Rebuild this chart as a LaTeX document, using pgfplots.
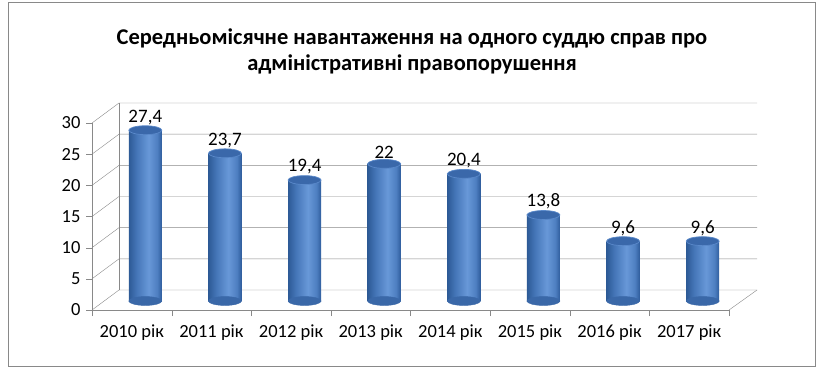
\documentclass[border=0pt]{standalone}
\usepackage{pgfplots}
\pgfplotsset{compat=1.18}
\usepackage{pgfplotstable}
\usepackage{fontspec}
\setmainfont{Carlito}
\definecolor{gridc}{HTML}{898989}
\definecolor{barL}{HTML}{2D5A96}
\definecolor{barL2}{HTML}{4576B8}
\definecolor{barM}{HTML}{6898D8}
\definecolor{barR2}{HTML}{4E7FC1}
\definecolor{barR}{HTML}{2F5D9C}
\definecolor{botc}{HTML}{3A68A8}
\definecolor{topc}{HTML}{3A68AA}
\definecolor{rimc}{HTML}{5A89CA}
\pgfdeclarehorizontalshading{cylshade}{100bp}{color(0bp)=(barL); color(25bp)=(barL); color(37bp)=(barL2); color(55bp)=(barM); color(68bp)=(barR2); color(75bp)=(barR); color(100bp)=(barR)}
\pgfplotstableread{
x y lab
0.5 27.4 27,4
1.5 23.7 23,7
2.5 19.4 19,4
3.5 22 22
4.5 20.4 20,4
5.5 13.8 13,8
6.5 9.6 9,6
7.5 9.6 9,6
}\datatable
\newcommand\cyl[2]{\addplot[ybar, bar shift=0pt, bar width=33pt, draw=none, fill=none, shade, shading=cylshade, xshift=13.5pt, yshift=9pt] coordinates {(#1,#2)};}
\begin{document}
\begin{tikzpicture}[x=1pt,y=1pt]
\path (0,0) rectangle (825,373);
\draw[gridc] (8,7) rectangle (815,371);
\node[align=center,font=\fontsize{22.5}{26}\selectfont\bfseries] at (412,322)
 {Середньомісячне навантаження на одного суддю справ про\\адміністративні правопорушення};
\begin{axis}[
 at={(92pt,63pt)}, anchor=south west,
 scale only axis, width=637pt, height=187pt,
 set layers,
 xmin=0, xmax=8, ymin=0, ymax=30,
 enlargelimits=false,
 axis x line*=bottom, axis y line*=left,
 axis line style={gridc},
 xtick={0,1,...,8},
 xticklabels={2010 рік,2011 рік,2012 рік,2013 рік,2014 рік,2015 рік,2016 рік,2017 рік},
 x tick label as interval=true,
 ytick={0,5,...,30},
 tick align=outside,
 major tick length=6pt,
 tick style={gridc},
 ticklabel style={font=\fontsize{18.5}{20}\selectfont},
 /pgf/number format/assume math mode=true,
 xticklabel style={yshift=-5pt},
 yticklabel style={xshift=-2pt},
 clip=false,
]
\begin{pgfonlayer}{axis background}
\pgfplotsinvokeforeach{0,5,10,15,20,25,30}{
 \draw[gridc] (axis cs:0,#1) -- ([shift={(27pt,20pt)}]axis cs:0,#1) -- ([shift={(28pt,20pt)}]axis cs:8,#1);
}
\draw[gridc] ([shift={(27pt,20pt)}]axis cs:0,0) -- ([shift={(27pt,20pt)}]axis cs:0,30);
\draw[gridc] (axis cs:8,0) -- ([shift={(28pt,20pt)}]axis cs:8,0);
\end{pgfonlayer}
% bottom ellipses
\addplot[on layer=axis grid, only marks, mark=*, mark size=16.5pt, color=botc, mark options={yscale=0.27, fill=none, draw=none, shade, shading=cylshade}, xshift=13.5pt, yshift=9pt]
 table[x=x, y expr=0] {\datatable};
% cylinder bodies
\cyl{0.5}{27.4}
\cyl{1.5}{23.7}
\cyl{2.5}{19.4}
\cyl{3.5}{22}
\cyl{4.5}{20.4}
\cyl{5.5}{13.8}
\cyl{6.5}{9.6}
\cyl{7.5}{9.6}
% top ellipses with value labels
\addplot[only marks, mark=*, mark size=16.5pt, color=topc, mark options={yscale=0.27, fill=topc, draw=rimc, line width=0.7pt}, xshift=13.5pt, yshift=9pt,
 point meta=explicit symbolic, nodes near coords,
 every node near coord/.append style={font=\fontsize{19}{20}\selectfont, color=black, anchor=south, yshift=2pt}]
 table[x=x, y=y, meta=lab] {\datatable};
\end{axis}
\end{tikzpicture}
\end{document}
